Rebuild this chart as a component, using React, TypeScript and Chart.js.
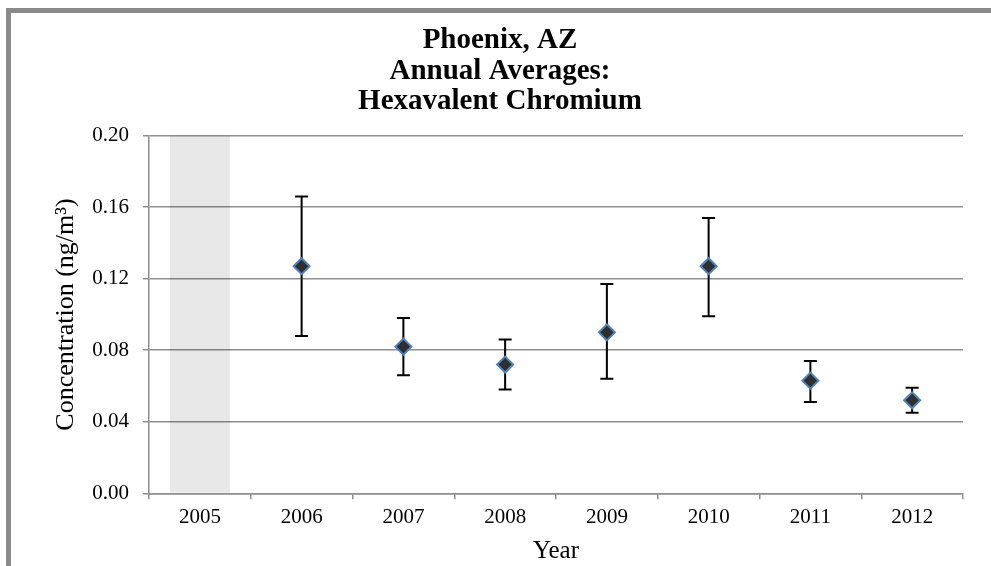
import React, { useEffect, useRef } from 'react';
import { Chart, registerables } from 'chart.js';

Chart.register(...registerables);

const years = ['2005', '2006', '2007', '2008', '2009', '2010', '2011', '2012'];
const means: (number | null)[] = [null, 0.127, 0.082, 0.072, 0.090, 0.127, 0.063, 0.052];
const upper: (number | null)[] = [null, 0.166, 0.098, 0.086, 0.117, 0.154, 0.074, 0.059];
const lower: (number | null)[] = [null, 0.088, 0.066, 0.058, 0.064, 0.099, 0.051, 0.045];
const noDataBand: (number | null)[] = [0.2, null, null, null, null, null, null, null];
const titleLines = ['Phoenix, AZ', 'Annual Averages:', 'Hexavalent Chromium'];
const yTitle = 'Concentration (ng/m³)';
const xTitle = 'Year';

const SERIF = "'Liberation Serif', 'Times New Roman', serif";

const errorBarPlugin = {
  id: 'errorBars',
  beforeDatasetsDraw(chart: any) {
    const { ctx, scales } = chart;
    const x = scales.x;
    const y = scales.y;
    ctx.save();
    ctx.strokeStyle = '#000000';
    ctx.lineWidth = 2;
    years.forEach((_, i) => {
      const hi = upper[i];
      const lo = lower[i];
      if (hi == null || lo == null) return;
      const px = x.getPixelForValue(i);
      const pt = y.getPixelForValue(hi);
      const pb = y.getPixelForValue(lo);
      ctx.beginPath();
      ctx.moveTo(px, pt);
      ctx.lineTo(px, pb);
      ctx.moveTo(px - 6.5, pt);
      ctx.lineTo(px + 6.5, pt);
      ctx.moveTo(px - 6.5, pb);
      ctx.lineTo(px + 6.5, pb);
      ctx.stroke();
    });
    ctx.restore();
  },
};

export default function App() {
  const canvasRef = useRef<HTMLCanvasElement | null>(null);

  useEffect(() => {
    if (!canvasRef.current) return;
    const chart = new Chart(canvasRef.current, {
      type: 'bar',
      data: {
        labels: years,
        datasets: [
          {
            type: 'bar',
            label: 'No data',
            data: noDataBand,
            backgroundColor: 'rgba(0,0,0,0.09)',
            borderWidth: 0,
            barPercentage: 0.59,
            categoryPercentage: 1,
            order: 2,
          } as any,
          {
            type: 'line',
            label: 'Annual Average',
            data: means,
            showLine: false,
            pointStyle: 'rectRot',
            pointRadius: 8,
            pointBackgroundColor: '#2f2f2f',
            pointBorderColor: '#4f81bd',
            pointBorderWidth: 2,
            order: 1,
          } as any,
        ],
      },
      options: {
        responsive: false,
        animation: false,
        layout: { padding: { left: 37, right: 28, top: 0, bottom: 0 } },
        plugins: {
          legend: { display: false },
          tooltip: { enabled: false },
          title: {
            display: true,
            text: titleLines,
            color: '#000000',
            font: { family: SERIF, size: 29, weight: 'bold', lineHeight: 1.05 },
            padding: { top: 25.5, bottom: 18.8 },
          },
        },
        scales: {
          x: {
            type: 'category',
            offset: true,
            afterFit: (scale: any) => {
              scale.height = 566 - 493.3;
            },
            grid: {
              display: true,
              offset: true,
              drawOnChartArea: false,
              drawTicks: true,
              tickLength: 6,
              color: '#8e8e8e',
              lineWidth: 1.5,
            },
            border: { display: true, color: '#8e8e8e', width: 1.5 },
            ticks: {
              color: '#000000',
              font: { family: SERIF, size: 21 },
              padding: 6,
              maxRotation: 0,
            },
            title: {
              display: true,
              text: xTitle,
              color: '#000000',
              font: { family: SERIF, size: 25 },
              padding: 0,
            },
          },
          y: {
            min: 0,
            max: 0.2,
            afterFit: (scale: any) => {
              scale.width = 112;
            },
            ticks: {
              stepSize: 0.04,
              color: '#000000',
              font: { family: SERIF, size: 21 },
              padding: 14,
              callback: (v: any) => Number(v).toFixed(2),
            },
            grid: {
              color: '#8e8e8e',
              lineWidth: 1.5,
              drawTicks: true,
              tickLength: 6,
            },
            border: { display: true, color: '#8e8e8e', width: 1.5 },
            title: {
              display: true,
              text: yTitle,
              color: '#000000',
              font: { family: SERIF, size: 26 },
              padding: { top: 14, bottom: 0 },
            },
          },
        },
      },
      plugins: [errorBarPlugin],
    });
    return () => chart.destroy();
  }, []);

  return (
    <div style={{ position: 'fixed', left: 0, top: 0, width: 991, height: 566, background: '#ffffff' }}>
      <div
        style={{
          position: 'absolute',
          left: 6,
          top: 8,
          right: 0,
          bottom: 0,
          borderTop: '5px solid #8a8a8a',
          borderLeft: '5px solid #8a8a8a',
        }}
      />
      <canvas
        ref={canvasRef}
        width={991}
        height={566}
        style={{ position: 'absolute', left: 0, top: 0, width: 991, height: 566 }}
      />
    </div>
  );
}
